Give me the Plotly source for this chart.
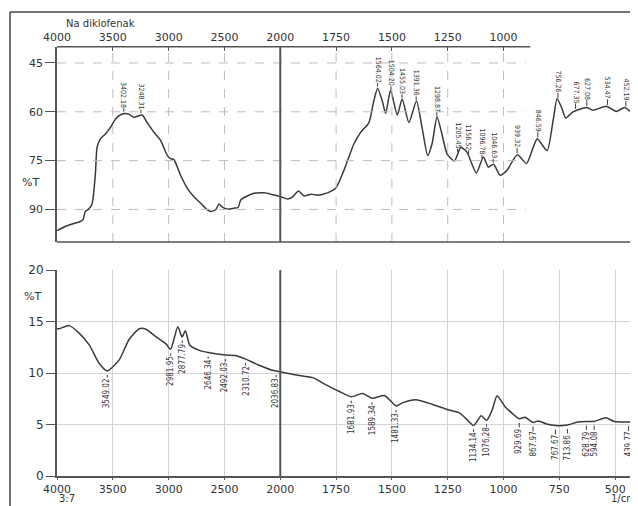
import numpy as np
import plotly.graph_objects as go

# ---------------- data ----------------
# top spectrum (Na diklofenak) - drawn on a reversed %T axis (as in the picture)
top_wavenumber = [4000, 3910, 3791, 3767, 3746, 3716, 3686, 3656, 3641, 3611, 3566, 3521, 3476,
                  3431, 3396, 3357, 3312, 3267, 3237, 3192, 3132, 3072, 3012, 2983, 2953, 2893,
                  2833, 2773, 2713, 2653, 2623, 2578, 2549, 2518, 2473, 2414, 2378, 2354, 2309,
                  2234, 2145, 2085, 1997, 1967, 1945, 1918, 1893, 1863, 1833, 1789, 1752, 1715,
                  1670, 1640, 1603, 1581, 1564, 1543, 1528, 1506, 1476, 1454, 1424, 1390, 1365,
                  1340, 1320, 1298, 1276, 1253, 1220, 1191, 1164, 1122, 1090, 1068, 1045, 1015,
                  985, 938, 897, 867, 849, 805, 778, 760, 740, 721, 689, 629, 599, 540, 495, 458,
                  421, 400]
top_T = [96.5, 95.0, 93.7, 93.2, 90.6, 89.9, 88.3, 79.0, 70.9, 68.3, 66.8, 64.8, 62.2,
         60.9, 60.5, 60.7, 61.7, 61.2, 61.0, 63.3, 66.3, 68.8, 73.4, 74.4, 74.7, 79.5,
         83.5, 86.1, 88.1, 90.1, 90.6, 90.1, 88.3, 89.3, 89.9, 89.6, 89.4, 87.1, 86.1,
         85.0, 84.9, 85.3, 86.1, 86.8, 86.1, 84.3, 85.9, 85.3, 85.6, 84.9, 83.5, 78.0,
         69.8, 66.3, 63.3, 56.7, 52.8, 56.7, 60.5, 53.4, 61.0, 56.1, 63.3, 56.7, 64.8,
         73.4, 69.8, 61.5, 66.8, 72.9, 75.1, 70.9, 72.4, 78.8, 73.9, 77.0, 76.1, 79.5,
         78.0, 73.2, 75.9, 70.9, 68.3, 71.9, 62.7, 56.0, 58.7, 61.9, 60.0, 58.7, 59.5, 58.3, 59.9, 58.7,
         60.4, 60.6]
top_peak_labels = [3402.18, 3248.31, 1564.02, 1504.20, 1455.03, 1391.36, 1298.87, 1205.45,
                   1156.52, 1096.78, 1046.63, 939.32, 846.59, 756.26, 677.35, 627.08, 534.47, 452.19]

# bottom spectrum
bot_wavenumber = [4000, 3979, 3890, 3800, 3710, 3620, 3549, 3441, 3352, 3262, 3203, 3112, 3022,
                  2982, 2918, 2880, 2850, 2810, 2724, 2646, 2492, 2400, 2310, 2200, 2080, 2036,
                  1914, 1854, 1795, 1735, 1682, 1631, 1589, 1532, 1481, 1453, 1393, 1318, 1244,
                  1199, 1169, 1134, 1100, 1076, 1051, 1029, 992, 962, 930, 903, 868, 844, 807,
                  768, 714, 668, 629, 594, 542, 505, 440, 405]
bot_T = [14.3, 14.3, 14.6, 13.85, 12.7, 10.9, 10.2, 11.3, 13.3, 14.3, 14.25, 13.5, 12.8,
         12.3, 14.5, 13.5, 14.1, 12.7, 12.2, 12.0, 11.75, 11.7, 11.35, 10.8, 10.3, 10.2,
         9.75, 9.55, 8.85, 8.2, 7.7, 8.0, 7.55, 7.8, 6.8, 7.1, 7.4, 6.95, 6.4,
         6.15, 5.6, 4.9, 5.85, 5.4, 6.4, 7.8, 6.7, 6.1, 5.55, 5.7, 5.2, 5.35, 5.05,
         4.9, 4.95, 5.25, 5.3, 5.3, 5.65, 5.3, 5.25, 5.25]
bot_peak_labels = [3549.02, 2981.95, 2877.79, 2646.34, 2492.03, 2310.72, 2036.83, 1681.93,
                   1589.34, 1481.33, 1134.14, 1076.28, 929.69, 867.97, 767.67, 713.86,
                   628.79, 594.08, 439.77]

top_ticks = [4000, 3500, 3000, 2500, 2000, 1750, 1500, 1250, 1000]
bot_ticks = [4000, 3500, 3000, 2500, 2000, 1750, 1500, 1250, 1000, 750, 500]
top_yticks = [45, 60, 75, 90]
bot_yticks = [0, 5, 10, 15, 20]


# piecewise wavenumber scale (scale doubles below 2000 1/cm)
def u(w):
    w = np.asarray(w, dtype=float)
    return np.where(w >= 2000, (4000 - w) / 2000.0, 1 + (2000 - w) / 1000.0)


# the page shows the figure 8 px in from the top-left corner
OFF = 8
FW, FH = 630, 498


def px(x):
    return (x - OFF) / FW


def py(y):
    return 1 - (y - OFF) / FH


X0, X1 = px(57), px(637.5)
TOP_D = [py(242), py(46.7)]
BOT_D = [py(476), py(270)]
CURVE = "#3a3a3a"
AX = "#555555"
TXT = "#333333"
LABEL_FONT = dict(family="Liberation Sans Narrow, DejaVu Sans Condensed, Arial Narrow, sans-serif",
                  size=8, color=TXT)

fig = go.Figure()
fig.add_trace(go.Scatter(x=u(top_wavenumber), y=top_T, xaxis="x2", yaxis="y2", mode="lines",
                         line=dict(color=CURVE, width=1.5, shape="spline", smoothing=0.6),
                         hoverinfo="skip", showlegend=False))
fig.add_trace(go.Scatter(x=u(bot_wavenumber), y=bot_T, xaxis="x", yaxis="y", mode="lines",
                         line=dict(color=CURVE, width=1.5, shape="spline", smoothing=0.6),
                         hoverinfo="skip", showlegend=False))

shapes = []
# top panel dashed grid (stops before the right part)
grid_end = u(900)
for v in top_yticks:
    shapes.append(dict(type="line", xref="x2", yref="y2", x0=0, x1=float(grid_end), y0=v, y1=v,
                       line=dict(color="#bdbdbd", width=1, dash="dash")))
for w in top_ticks[1:]:
    if w == 2000:
        continue
    shapes.append(dict(type="line", xref="x2", yref="y2 domain", x0=float(u(w)), x1=float(u(w)),
                       y0=0, y1=1, line=dict(color="#bdbdbd", width=1, dash="dash")))
# top panel frame pieces
shapes.append(dict(type="line", xref="x2", yref="y2 domain", x0=0, x1=float(u(880)), y0=1, y1=1,
                   line=dict(color=AX, width=1.5)))
shapes.append(dict(type="line", xref="paper", yref="y2 domain", x0=px(632), x1=1, y0=1, y1=1,
                   line=dict(color=AX, width=1.5)))
shapes.append(dict(type="line", xref="paper", yref="paper", x0=px(637), x1=px(637),
                   y0=py(242), y1=py(35), line=dict(color=AX, width=1.5)))
shapes.append(dict(type="line", xref="x2", yref="y2 domain", x0=0, x1=2.6, y0=0, y1=0,
                   line=dict(color=AX, width=1.5)))
# 2000 1/cm divider lines
for xr, yr in (("x2", "y2 domain"), ("x", "y domain")):
    shapes.append(dict(type="line", xref=xr, yref=yr, x0=float(u(2000)), x1=float(u(2000)),
                       y0=0, y1=1, line=dict(color=AX, width=2)))
# outer frame of the picture
shapes.append(dict(type="line", xref="paper", yref="paper", x0=px(10), x1=px(10), y0=0,
                   y1=py(12), line=dict(color="#444444", width=1.5)))
shapes.append(dict(type="line", xref="paper", yref="paper", x0=px(10), x1=1, y0=py(12),
                   y1=py(12), line=dict(color="#444444", width=1.5)))

annotations = []
# bottom peak labels
ux_b = u(bot_wavenumber)
for p in bot_peak_labels:
    yv = float(np.interp(u(p), ux_b, bot_T))
    annotations.append(dict(x=float(u(p)), y=yv, xref="x", yref="y", text=f"{p:.2f}",
                            textangle=-90, showarrow=True, arrowhead=0, arrowwidth=1,
                            arrowcolor=CURVE, ax=0, ay=22, standoff=4, borderpad=0,
                            font=LABEL_FONT))
# top peak labels
ux_t = u(top_wavenumber)
for p in top_peak_labels:
    yv = float(np.interp(u(p), ux_t, top_T))
    annotations.append(dict(x=float(u(p)), y=yv, xref="x2", yref="y2", text=f"{p:.2f}",
                            textangle=90, showarrow=True, arrowhead=0, arrowwidth=1,
                            arrowcolor=CURVE, ax=0, ay=-19, standoff=2, borderpad=0,
                            font=dict(LABEL_FONT, size=7)))

BIG = dict(family="DejaVu Sans, Arial, sans-serif", size=12, color=TXT)


def note(x, y, text, xanchor="center", size=11):
    return dict(x=px(x), y=py(y), xref="paper", yref="paper", text=text, showarrow=False,
                xanchor=xanchor, yanchor="middle", font=dict(BIG, size=size))


annotations += [
    note(100, 24, "Na diklofenak", size=10),
    note(30, 183, "%T"),
    note(32, 296, "%T"),
    note(67, 498, "3:7", size=10),
    note(638, 498, "1/cm", xanchor="right", size=10),
    note(634, 22, "u"),
]

fig.update_layout(
    width=FW, height=FH, margin=dict(l=0, r=0, t=0, b=0, autoexpand=False),
    paper_bgcolor="white", plot_bgcolor="white", showlegend=False,
    shapes=shapes, annotations=annotations,
    xaxis=dict(domain=[X0, X1], range=[0, 2.6], anchor="y", automargin=False,
               tickvals=u(bot_ticks).tolist(), ticktext=[str(t) for t in bot_ticks],
               ticks="outside", ticklen=2, tickcolor=AX, showgrid=True, gridcolor="#d4d4d4",
               gridwidth=1, showline=True, linecolor=AX, linewidth=2, zeroline=False,
               tickfont=dict(BIG, size=11)),
    yaxis=dict(domain=BOT_D, range=[0, 20], anchor="x", tickvals=bot_yticks, automargin=False,
               ticks="outside", ticklen=9, tickcolor=AX, showgrid=True, gridcolor="#d4d4d4",
               showline=True, linecolor=AX, linewidth=2, zeroline=False, tickfont=BIG),
    xaxis2=dict(domain=[X0, X1], range=[0, 2.6], anchor="y2", side="top", automargin=False,
                tickvals=u(top_ticks).tolist(), ticktext=[str(t) for t in top_ticks],
                ticks="inside", ticklen=4, tickcolor=AX, ticklabelstandoff=3,
                showgrid=False, showline=False, zeroline=False,
                tickfont=dict(BIG, size=11)),
    yaxis2=dict(domain=TOP_D, range=[100, 40], anchor="x2", tickvals=top_yticks, automargin=False,
                ticks="outside", ticklen=10, tickcolor=AX, showgrid=False, showline=True,
                linecolor=AX, linewidth=1.5, zeroline=False, tickfont=dict(BIG, size=11)),
)

fig.write_html("out.html")
